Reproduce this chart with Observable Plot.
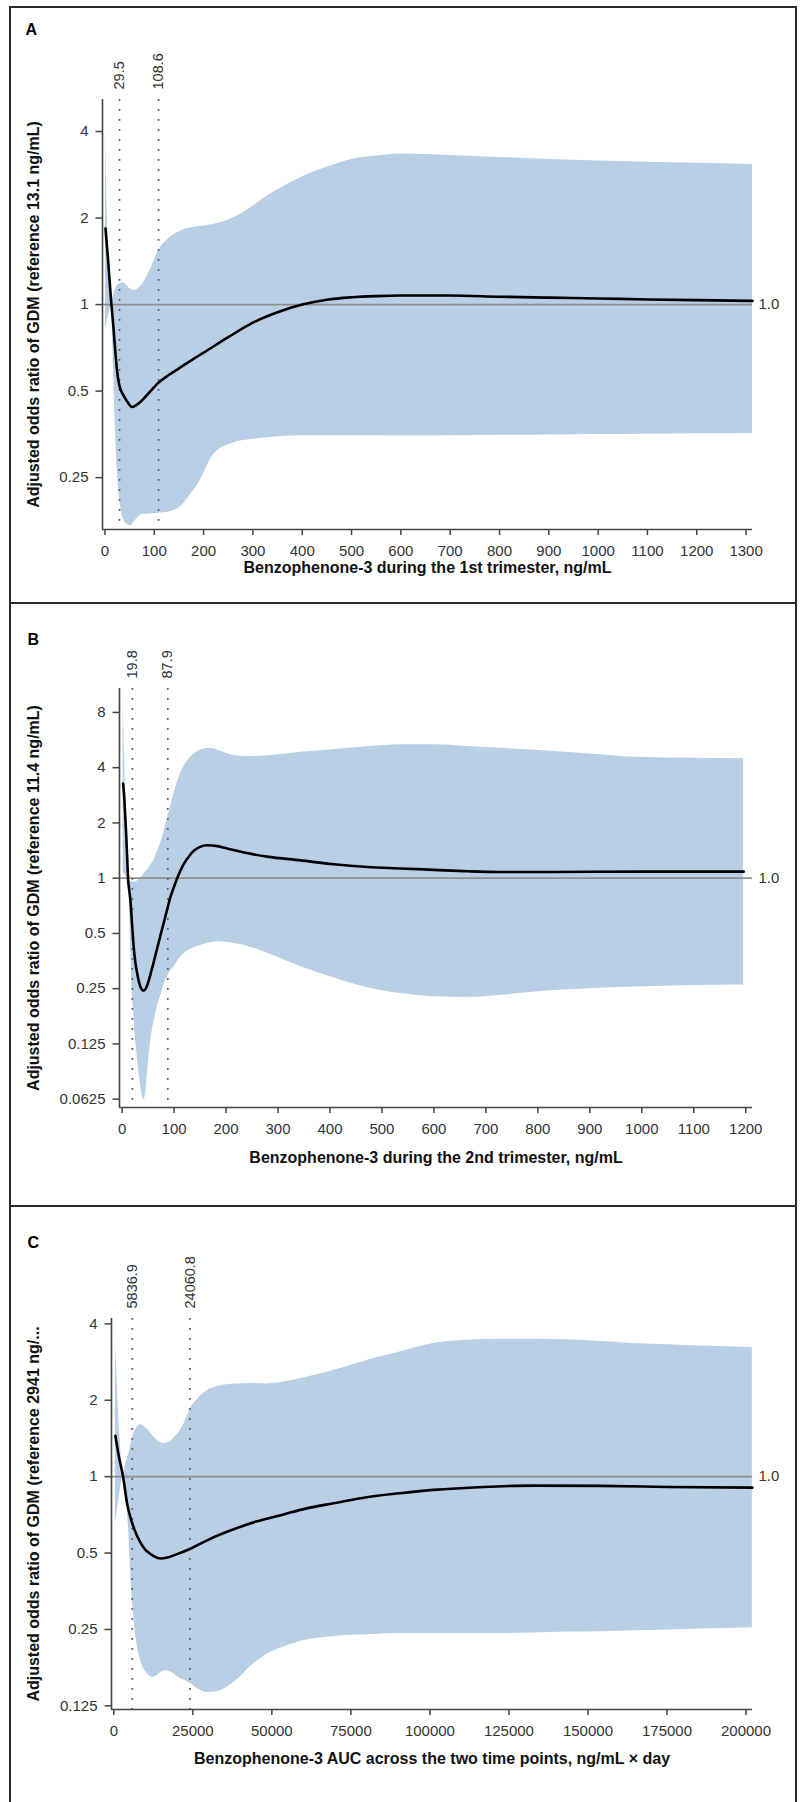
<!DOCTYPE html>
<html>
<head>
<meta charset="utf-8">
<script src="https://cdn.jsdelivr.net/npm/d3@7"></script>
<script src="https://cdn.jsdelivr.net/npm/@observablehq/plot@0.6"></script>
<style>
  html, body { margin: 0; padding: 0; background: #fff; }
  #wrap { position: relative; width: 801px; height: 1802px; overflow: hidden; font-family: "Liberation Sans", Arial, sans-serif; }
  .pan { position: absolute; left: 0; }
  .box { position: absolute; left: 9px; top: 6px; width: 788px; height: 1900px; border: 2px solid #2a2a2a; box-sizing: border-box; }
  .sep { position: absolute; left: 9px; width: 788px; height: 2px; background: #2a2a2a; }
</style>
</head>
<body>
<div id="wrap">
  <div class="box"></div>
  <div class="sep" style="top:602px"></div>
  <div class="sep" style="top:1205px"></div>
</div>
<script>
// ---------------- Panel A data ----------------
const letterA = "A";
const yLabelA = "Adjusted odds ratio of GDM (reference 13.1 ng/mL)";
const xLabelA = "Benzophenone-3 during the 1st trimester, ng/mL";
const cutsA = [29.5, 108.6];
const xTicksA = [0,100,200,300,400,500,600,700,800,900,1000,1100,1200,1300];
const yTicksA = [0.25, 0.5, 1, 2, 4];
const curveXA = [1,4,7,10,13.1,16,18,20,24,28,32,37,45,55,62,71,90,108.6,130,150,175,200,250,300,350,400,450,500,550,600,700,800,900,1000,1100,1200,1313];
const curveOrA = [1.84,1.6,1.38,1.17,1.0,0.88,0.8,0.72,0.6,0.535,0.505,0.485,0.46,0.44,0.445,0.457,0.495,0.535,0.57,0.6,0.64,0.68,0.77,0.865,0.94,1.0,1.04,1.06,1.07,1.075,1.075,1.065,1.057,1.05,1.042,1.036,1.03];
const bandXA = [1,3,5,8,10,13.1,16,19,22,26,30,35,45,52,61,75,90,108.6,130,152,175,193,220,260,300,335,400,460,500,560,600,700,800,900,1000,1100,1200,1313];
const bandHiA = [4.2,2.7,2.0,1.5,1.25,1.0,1.05,1.1,1.14,1.17,1.18,1.19,1.16,1.13,1.12,1.17,1.3,1.54,1.7,1.8,1.85,1.87,1.9,2.0,2.2,2.42,2.78,3.05,3.2,3.3,3.34,3.3,3.25,3.2,3.16,3.13,3.1,3.07];
const bandLoA = [0.81,0.85,0.88,0.93,0.96,1.0,0.72,0.48,0.34,0.25,0.21,0.185,0.172,0.17,0.177,0.186,0.187,0.188,0.19,0.197,0.22,0.244,0.30,0.33,0.34,0.345,0.35,0.35,0.35,0.35,0.349,0.35,0.351,0.352,0.353,0.354,0.355,0.356];

// ---------------- Panel B data ----------------
const letterB = "B";
const yLabelB = "Adjusted odds ratio of GDM (reference 11.4 ng/mL)";
const xLabelB = "Benzophenone-3 during the 2nd trimester, ng/mL";
const cutsB = [19.8, 87.9];
const xTicksB = [0,100,200,300,400,500,600,700,800,900,1000,1100,1200];
const yTicksB = [0.0625, 0.125, 0.25, 0.5, 1, 2, 4, 8];
const curveXB = [2,4,6,8,10,11.4,14,16,19,22.4,26,28.8,35,41.6,46,51,56,61,67,74,80,87,93,100,106,113,119,130,138,150,164,180,202,240,279,343,407,472,536,600,665,728,800,900,1000,1100,1196];
const curveOrB = [3.28,2.8,2.2,1.7,1.25,1.0,0.85,0.76,0.57,0.42,0.34,0.305,0.257,0.244,0.252,0.275,0.31,0.35,0.41,0.49,0.57,0.68,0.79,0.9,1.0,1.11,1.2,1.33,1.41,1.48,1.51,1.5,1.45,1.37,1.31,1.25,1.19,1.15,1.13,1.11,1.09,1.08,1.08,1.083,1.085,1.085,1.085];
const bandXB = [2,4,6,8,11.4,13,15,17,19,22,25,28,31,35,38,41.6,45,48,51,55,61,67,74,80,87,93,100,112,120,131,145,157,170,183,200,215,235,253,280,343,400,472,536,600,665,730,794,900,988,1100,1196];
const bandHiB = [9.6,5.5,3.3,2.0,1.0,0.98,0.965,0.957,0.953,0.95,0.952,0.96,0.975,1.0,1.02,1.05,1.08,1.1,1.13,1.18,1.25,1.38,1.55,1.75,2.1,2.44,2.9,3.7,4.1,4.55,4.9,5.06,5.08,5.0,4.8,4.66,4.6,4.6,4.64,4.85,5.0,5.2,5.33,5.33,5.22,5.1,4.97,4.75,4.56,4.5,4.48];
const bandLoB = [1.07,1.06,1.04,1.025,1.0,0.85,0.6,0.38,0.25,0.19,0.14,0.115,0.094,0.077,0.068,0.062,0.066,0.083,0.1,0.13,0.163,0.195,0.227,0.26,0.29,0.31,0.33,0.37,0.39,0.41,0.425,0.435,0.445,0.45,0.447,0.44,0.43,0.415,0.39,0.33,0.29,0.253,0.235,0.226,0.224,0.23,0.24,0.25,0.255,0.26,0.262];

// ---------------- Panel C data ----------------
const letterC = "C";
const yLabelC = "Adjusted odds ratio of GDM (reference 2941 ng/...";
const xLabelC = "Benzophenone-3 AUC across the two time points, ng/mL \u00d7 day";
const cutsC = [5836.9, 24060.8];
const xTicksC = [0,25000,50000,75000,100000,125000,150000,175000,200000];
const yTicksC = [0.125, 0.25, 0.5, 1, 2, 4];
const curveXC = [500,1500,2941,4230,5270,6300,8430,10000,11590,13500,14750,17000,20000,24220,30000,37900,45000,53700,61000,69500,80000,90500,101150,117000,132900,154100,175300,202000];
const curveOrC = [1.45,1.22,1.0,0.78,0.69,0.63,0.55,0.515,0.496,0.48,0.476,0.48,0.495,0.52,0.565,0.62,0.665,0.71,0.75,0.785,0.83,0.86,0.887,0.911,0.922,0.92,0.911,0.905];
const bandXC = [500,1000,1500,2000,2941,3500,4000,4740,5500,6300,7300,8430,9500,10500,12130,13500,14500,15800,16850,17500,19500,21060,23170,24220,26500,29480,32500,35800,39500,43170,48000,53700,59000,64200,69500,75000,80000,85000,90500,101150,111800,122400,132900,143600,154100,164700,175300,185900,202000];
const bandHiC = [3.4,2.5,1.8,1.4,1.0,1.08,1.15,1.23,1.35,1.48,1.56,1.6,1.58,1.54,1.46,1.4,1.37,1.35,1.36,1.37,1.44,1.52,1.72,1.85,2.02,2.18,2.26,2.3,2.32,2.33,2.32,2.36,2.43,2.52,2.62,2.74,2.87,2.98,3.1,3.35,3.45,3.48,3.48,3.46,3.41,3.35,3.31,3.27,3.23];
const bandLoC = [0.65,0.72,0.8,0.88,1.0,0.92,0.82,0.6,0.38,0.28,0.22,0.19,0.175,0.168,0.162,0.164,0.168,0.171,0.172,0.171,0.165,0.16,0.156,0.153,0.146,0.141,0.142,0.148,0.16,0.178,0.198,0.213,0.224,0.23,0.234,0.237,0.238,0.24,0.241,0.241,0.241,0.241,0.242,0.244,0.245,0.247,0.249,0.251,0.254];

// ---------------- drawing ----------------
const FONT = "'Liberation Sans', Arial, Helvetica, sans-serif";
const BAND = "#b9cfe6";
const AXIS = "#444";
// a short horizontal tick drawn to the left of the y axis
const leftTick = {draw(context) { context.moveTo(-7, 0); context.lineTo(0, 0); }};

function drawPanel(p) {
  const band = p.bandX.map((x, i) => ({x, lo: p.bandLo[i], hi: p.bandHi[i]}));
  const curve = p.curveX.map((x, i) => ({x, or: p.curveOr[i]}));
  const svg = Plot.plot({
    width: 801,
    height: p.height,
    marginTop: p.mt, marginBottom: p.mb, marginLeft: p.ml, marginRight: p.mr,
    x: {type: "linear", domain: p.xDomain},
    y: {type: "log", domain: p.yDomain, axis: null},
    style: {fontFamily: FONT, fontSize: "15px", color: "#333", background: "transparent", overflow: "visible"},
    marks: [
      Plot.areaY(band, {x: "x", y1: "lo", y2: "hi", fill: BAND, curve: "monotone-x"}),
      Plot.ruleY([1], {stroke: "#8f8f8f", strokeWidth: 1.6}),
      Plot.ruleX(p.cuts, {stroke: "#555", strokeWidth: 1.7, strokeDasharray: "1.7,8.3"}),
      Plot.line(curve, {x: "x", y: "or", stroke: "#000", strokeWidth: 2.6, curve: "monotone-x"}),
      Plot.ruleY([p.yDomain[0]], {stroke: AXIS, strokeWidth: 1.6}),
      Plot.ruleX([p.xDomain[0]], {stroke: AXIS, strokeWidth: 1.6}),
      Plot.axisX({anchor: "bottom", ticks: p.xTicks, tickFormat: d => String(d), tickSize: 6, tickPadding: 10, label: null, stroke: AXIS, strokeWidth: 1.5, fill: "#333", fontSize: 15}),
      Plot.dot(p.yTicks, {y: d => d, frameAnchor: "left", symbol: leftTick, stroke: AXIS, strokeWidth: 1.5, fill: "none"}),
      Plot.text(p.yTicks, {y: d => d, frameAnchor: "left", textAnchor: "end", lineAnchor: "middle", dx: -14, text: d => String(d), fill: "#333", fontSize: 15}),
      Plot.text(p.cuts, {x: d => d, frameAnchor: "top", rotate: -90, textAnchor: "start", lineAnchor: "middle", dy: -10, text: d => d.toFixed(1), fontSize: 14.5, fill: "#333"}),
      Plot.text([1], {y: d => d, frameAnchor: "right", text: () => "1.0", textAnchor: "start", lineAnchor: "middle", dx: 6, fontSize: 15, fill: "#333"}),
      Plot.text([p.yLabel], {frameAnchor: "left", rotate: -90, textAnchor: "middle", lineAnchor: "middle", dx: 33 - p.ml, fontWeight: "bold", fontSize: 16, fill: "#111"}),
      Plot.text([p.xLabel], {frameAnchor: "bottom", textAnchor: "middle", lineAnchor: "middle", dy: p.xlDy, fontWeight: "bold", fontSize: 16, fill: "#111"}),
      Plot.text([p.letter], {frameAnchor: "top-left", textAnchor: "start", lineAnchor: "middle", dx: p.letterDx, dy: p.letterDy, fontWeight: "bold", fontSize: 16, fill: "#000"})
    ]
  });
  const holder = document.createElement("div");
  holder.className = "pan";
  holder.style.top = p.top + "px";
  holder.appendChild(svg);
  document.getElementById("wrap").appendChild(holder);
}

drawPanel({
  top: 0, height: 603, mt: 99, mb: 74, ml: 102, mr: 49,
  xDomain: [-5, 1313], yDomain: [0.165, 5.17],
  cuts: cutsA, xTicks: xTicksA, yTicks: yTicksA,
  curveX: curveXA, curveOr: curveOrA, bandX: bandXA, bandHi: bandHiA, bandLo: bandLoA,
  yLabel: yLabelA, xLabel: xLabelA, xlDy: 38.5, letter: letterA, letterDx: -77, letterDy: -70
});
drawPanel({
  top: 603, height: 603, mt: 85, mb: 99, ml: 119, mr: 49,
  xDomain: [-5, 1213], yDomain: [0.0563, 10.8],
  cuts: cutsB, xTicks: xTicksB, yTicks: yTicksB,
  curveX: curveXB, curveOr: curveOrB, bandX: bandXB, bandHi: bandHiB, bandLo: bandLoB,
  yLabel: yLabelB, xLabel: xLabelB, xlDy: 50, letter: letterB, letterDx: -92, letterDy: -49
});
drawPanel({
  top: 1206, height: 596, mt: 112, mb: 93, ml: 111, mr: 49,
  xDomain: [-730, 202050], yDomain: [0.1209, 4.2],
  cuts: cutsC, xTicks: xTicksC, yTicks: yTicksC,
  curveX: curveXC, curveOr: curveOrC, bandX: bandXC, bandHi: bandHiC, bandLo: bandLoC,
  yLabel: yLabelC, xLabel: xLabelC, xlDy: 49, letter: letterC, letterDx: -84, letterDy: -76
});
</script>
</body>
</html>
